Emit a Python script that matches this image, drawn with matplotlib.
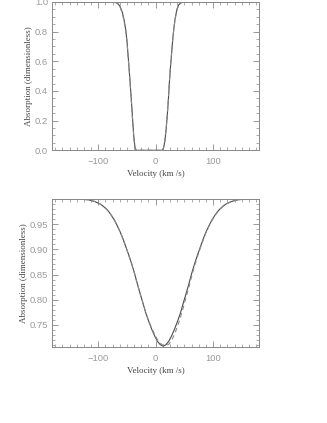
import matplotlib
matplotlib.use("Agg")
import matplotlib.pyplot as plt
from matplotlib.ticker import MultipleLocator

plt.rcParams['font.family'] = ['Liberation Sans', 'DejaVu Sans']

# top panel: saturated line, model (solid) and fit (dashed)
vel_top = [-180, -80, -70, -66, -62, -58, -55, -52, -50, -48, -46, -44, -42, -40,
           -38, -36, -34, 12, 14, 16, 18, 20, 22, 24, 26, 28, 30, 32, 34, 37, 40,
           44, 50, 180]
abs_top = [1.0, 1.0, 0.998, 0.99, 0.97, 0.93, 0.88, 0.81, 0.74, 0.64, 0.54, 0.43,
           0.32, 0.20, 0.09, 0.02, 0.0, 0.0, 0.02, 0.06, 0.13, 0.22, 0.33, 0.46,
           0.57, 0.66, 0.76, 0.83, 0.89, 0.95, 0.98, 0.995, 1.0, 1.0]
fit_top = [1.0, 1.0, 0.997, 0.988, 0.965, 0.925, 0.87, 0.80, 0.73, 0.63, 0.53, 0.42,
           0.31, 0.19, 0.08, 0.02, 0.0, 0.0, 0.02, 0.07, 0.14, 0.23, 0.34, 0.47,
           0.58, 0.67, 0.76, 0.83, 0.885, 0.945, 0.978, 0.994, 1.0, 1.0]

# bottom panel: weak line
vel_bot = [-180, -137, -117, -107, -97, -92, -87, -82, -77, -72, -67, -62, -57,
           -52, -47, -42, -37, -32, -27, -22, -17, -12, -7, -2, 3, 8, 13, 18, 23,
           28, 33, 38, 43, 48, 53, 58, 63, 68, 73, 78, 83, 88, 93, 98, 103, 108,
           113, 118, 123, 133, 143, 163, 180]
abs_bot = [1.0, 1.0, 0.998, 0.995, 0.990, 0.986, 0.981, 0.975, 0.967, 0.958,
           0.947, 0.935, 0.921, 0.905, 0.889, 0.872, 0.853, 0.832, 0.812, 0.793,
           0.773, 0.757, 0.742, 0.729, 0.718, 0.711, 0.708, 0.711, 0.718, 0.729,
           0.742, 0.757, 0.773, 0.793, 0.812, 0.832, 0.853, 0.872, 0.889, 0.905,
           0.921, 0.935, 0.947, 0.958, 0.967, 0.975, 0.981, 0.986, 0.990, 0.995,
           0.998, 1.0, 1.0]
fit_bot = [1.0, 1.0, 0.998, 0.995, 0.990, 0.986, 0.981, 0.975, 0.967, 0.958,
           0.947, 0.935, 0.921, 0.905, 0.889, 0.872, 0.853, 0.832, 0.812, 0.793,
           0.774, 0.758, 0.744, 0.732, 0.721, 0.714, 0.710, 0.709, 0.712, 0.720,
           0.732, 0.747, 0.764, 0.784, 0.805, 0.826, 0.848, 0.868, 0.886, 0.903,
           0.919, 0.934, 0.946, 0.957, 0.966, 0.974, 0.980, 0.986, 0.990, 0.995,
           0.998, 1.0, 1.0]

fig = plt.figure(figsize=(3.27, 4.23), dpi=100)
ax1 = fig.add_axes([0.160, 0.6447, 0.632, 0.3506])
ax2 = fig.add_axes([0.160, 0.1804, 0.632, 0.349])

for ax, v, a, f in [(ax1, vel_top, abs_top, fit_top), (ax2, vel_bot, abs_bot, fit_bot)]:
    ax.plot(v, a, color="#4a4a4a", lw=0.8)
    ax.plot(v, f, color="#8a8a8a", lw=0.8, ls=(0, (4, 3)))
    ax.set_xlim(-180, 180)
    ax.xaxis.set_major_locator(MultipleLocator(100))
    ax.xaxis.set_minor_locator(MultipleLocator(12.5))
    ax.tick_params(which="both", direction="in", top=True, right=True,
                   color="#888888", labelcolor="#999999", labelsize=6.8)
    ax.tick_params(which="major", length=4, width=0.6, pad=5)
    ax.tick_params(axis="y", which="major", pad=3)
    ax.tick_params(which="minor", length=2, width=0.5)
    for s in ax.spines.values():
        s.set_color("#888888")
        s.set_linewidth(0.7)
    ax.set_xlabel("Velocity (km /s)", family="Liberation Serif", fontsize=6.5,
                  color="#444444", labelpad=3)
    ax.set_ylabel("Absorption (dimensionless)", family="Liberation Serif",
                  fontsize=6.5, color="#444444", labelpad=1.5)

ax1.set_ylim(0, 1.0)
ax1.yaxis.set_major_locator(MultipleLocator(0.2))
ax1.yaxis.set_minor_locator(MultipleLocator(0.05))
ax1.yaxis.set_major_formatter(plt.FormatStrFormatter("%.1f"))

ax2.set_ylim(0.707, 0.9995)
ax2.yaxis.set_major_locator(MultipleLocator(0.05))
ax2.yaxis.set_minor_locator(MultipleLocator(0.01))
ax2.yaxis.set_major_formatter(plt.FormatStrFormatter("%.2f"))

for ax in (ax1, ax2):
    for lab in ax.get_yticklabels():
        lab.set_verticalalignment("center_baseline")

fig.savefig("out.png", dpi=100)
